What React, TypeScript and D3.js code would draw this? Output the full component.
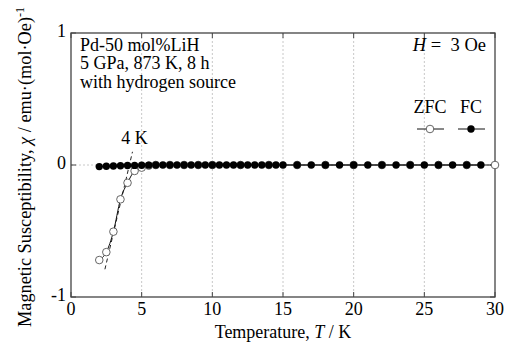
import React, { useEffect, useRef } from 'react';
import * as d3 from 'd3';

// data
const fcTemps = [2, 2.5, 3, 3.5, 4, 4.5, 5, 5.5, 6, 6.5, 7, 7.5, 8, 8.5, 9, 9.5, 10, 10.5, 11, 11.5, 12, 12.5, 13, 13.5, 14, 14.5, 15, 16, 17, 18, 19, 20, 21, 22, 23, 24, 25, 26, 27, 28, 29];
const fcValues = [-0.012, -0.01, -0.008, -0.006, -0.004, -0.003, -0.002, -0.001, 0, 0, 0, 0, 0, 0, 0, 0, 0, 0, 0, 0, 0, 0, 0, 0, 0, 0, 0, 0, 0, 0, 0, 0, 0, 0, 0, 0, 0, 0, 0, 0, 0];
const zfcTemps = [2, 2.5, 3, 3.5, 4, 4.5, 5, 5.5, 6, 7, 8, 9, 10, 12, 14, 16, 18, 20, 22, 24, 26, 28, 30];
const zfcValues = [-0.72, -0.66, -0.505, -0.26, -0.135, -0.045, -0.02, -0.005, 0, 0, 0, 0, 0, 0, 0, 0, 0, 0, 0, 0, 0, 0, 0];
const onsetLine = [[2.4, -0.79], [4.35, 0.1]];
const xTicks = [0, 5, 10, 15, 20, 25, 30];
const yTicks = [-1, 0, 1];
const infoLines = ['Pd-50 mol%LiH', '5 GPa, 873 K, 8 h', 'with hydrogen source'];

const W = 505;
const H = 342;

const App = () => {
  const ref = useRef<SVGSVGElement>(null);

  useEffect(() => {
    const svg = d3.select(ref.current);
    svg.selectAll('*').remove();

    const margin = { top: 33, right: 10, bottom: 45, left: 71 };
    const iw = W - margin.left - margin.right;
    const ih = H - margin.top - margin.bottom;
    const font = '"Liberation Serif", "Times New Roman", serif';

    const x = d3.scaleLinear().domain([0, 30]).range([0, iw]);
    const y = d3.scaleLinear().domain([-1, 1]).range([ih, 0]);

    const g = svg.append('g').attr('transform', `translate(${margin.left},${margin.top})`);

    // dotted grid
    g.selectAll('.gx')
      .data(xTicks.slice(1, -1))
      .enter()
      .append('line')
      .attr('x1', d => x(d)).attr('x2', d => x(d))
      .attr('y1', 0).attr('y2', ih)
      .attr('stroke', '#c8c8c8').attr('stroke-dasharray', '2,2');
    g.append('line')
      .attr('x1', 0).attr('x2', iw)
      .attr('y1', y(0)).attr('y2', y(0))
      .attr('stroke', '#c8c8c8').attr('stroke-dasharray', '2,2');

    // frame and inward ticks
    g.append('rect').attr('width', iw).attr('height', ih)
      .attr('fill', 'none').attr('stroke', '#444').attr('stroke-width', 1.3);

    const tl = 5;
    xTicks.forEach(t => {
      g.append('line').attr('x1', x(t)).attr('x2', x(t)).attr('y1', ih).attr('y2', ih - tl).attr('stroke', '#444');
      g.append('line').attr('x1', x(t)).attr('x2', x(t)).attr('y1', 0).attr('y2', tl).attr('stroke', '#444');
    });
    yTicks.forEach(t => {
      g.append('line').attr('x1', 0).attr('x2', tl).attr('y1', y(t)).attr('y2', y(t)).attr('stroke', '#444');
      g.append('line').attr('x1', iw).attr('x2', iw - tl).attr('y1', y(t)).attr('y2', y(t)).attr('stroke', '#444');
    });

    g.selectAll('.xl')
      .data(xTicks)
      .enter()
      .append('text')
      .attr('x', d => x(d)).attr('y', ih + 18)
      .attr('text-anchor', 'middle')
      .style('font-family', font).style('font-size', '18px')
      .text(d => d);

    g.selectAll('.yl')
      .data(yTicks)
      .enter()
      .append('text')
      .attr('x', -5).attr('y', d => y(d) + 4)
      .attr('text-anchor', 'end')
      .style('font-family', font).style('font-size', '18px')
      .text(d => d);

    // axis titles
    const xt = svg.append('text')
      .attr('x', margin.left + iw / 2).attr('y', H - 4)
      .attr('text-anchor', 'middle')
      .style('font-family', font).style('font-size', '18px');
    xt.append('tspan').text('Temperature, ');
    xt.append('tspan').style('font-style', 'italic').text('T');
    xt.append('tspan').text(' / K');

    const yt = svg.append('text')
      .attr('transform', `translate(31,${margin.top + ih / 2 + 2}) rotate(-90)`)
      .attr('text-anchor', 'middle')
      .style('font-family', font).style('font-size', '18.3px');
    yt.append('tspan').text('Magnetic Susceptibility, ');
    yt.append('tspan').style('font-style', 'italic').text('χ');
    yt.append('tspan').text(' / emu·(mol·Oe)');
    yt.append('tspan').attr('dy', -7).style('font-size', '12px').text('-1');

    // annotations
    infoLines.forEach((s, i) => {
      g.append('text')
        .attr('x', 9).attr('y', 17.5 + i * 18.7)
        .style('font-family', font).style('font-size', '18px')
        .text(s);
    });
    const ht = g.append('text')
      .attr('x', iw - 9).attr('y', 18)
      .attr('text-anchor', 'end')
      .style('font-family', font).style('font-size', '18.5px');
    ht.append('tspan').style('font-style', 'italic').text('H');
    ht.append('tspan').text(' =\u00a0 3 Oe');

    g.append('text')
      .attr('x', x(4.5)).attr('y', y(0) - 21)
      .attr('text-anchor', 'middle')
      .style('font-family', font).style('font-size', '18px')
      .text('4 K');

    // onset dashed line
    g.append('path')
      .datum(onsetLine)
      .attr('d', d3.line<number[]>().x(d => x(d[0])).y(d => y(d[1])))
      .attr('fill', 'none').attr('stroke', '#222').attr('stroke-dasharray', '4,3');

    const line = d3.line<[number, number]>().x(d => x(d[0])).y(d => y(d[1]));
    const zfc = zfcTemps.map((t, i) => [t, zfcValues[i]] as [number, number]);
    const fc = fcTemps.map((t, i) => [t, fcValues[i]] as [number, number]);

    g.append('path').datum(zfc).attr('d', line.curve(d3.curveMonotoneX))
      .attr('fill', 'none').attr('stroke', '#111').attr('stroke-width', 1);
    g.selectAll('.zfc')
      .data(zfc)
      .enter()
      .append('circle')
      .attr('cx', d => x(d[0])).attr('cy', d => y(d[1])).attr('r', 3.8)
      .attr('fill', 'white').attr('stroke', '#555').attr('stroke-width', 0.9);

    g.append('path').datum(fc).attr('d', d3.line<[number, number]>().x(d => x(d[0])).y(d => y(d[1])))
      .attr('fill', 'none').attr('stroke', '#111').attr('stroke-width', 1);
    g.selectAll('.fc')
      .data(fc)
      .enter()
      .append('circle')
      .attr('cx', d => x(d[0])).attr('cy', d => y(d[1])).attr('r', 3.7)
      .attr('fill', '#000');

    // legend
    const lg = svg.append('g').attr('transform', 'translate(430,129)');
    [['ZFC', 0, true], ['FC', 41, false]].forEach(([label, dx, open]) => {
      const cx = dx as number;
      lg.append('text').attr('x', cx).attr('y', -16)
        .attr('text-anchor', 'middle')
        .style('font-family', font).style('font-size', '18px')
        .text(label as string);
      lg.append('line').attr('x1', cx - 13).attr('x2', cx + 14).attr('y1', 0).attr('y2', 0)
        .attr('stroke', '#111');
      lg.append('circle').attr('cx', cx).attr('cy', 0).attr('r', open ? 3.8 : 3.7)
        .attr('fill', open ? 'white' : '#000')
        .attr('stroke', open ? '#555' : 'none').attr('stroke-width', 0.9);
    });
  }, []);

  return <svg ref={ref} width={W} height={H} style={{ position: 'absolute', left: 0, top: 0, background: 'white' }} />;
};

export default App;
